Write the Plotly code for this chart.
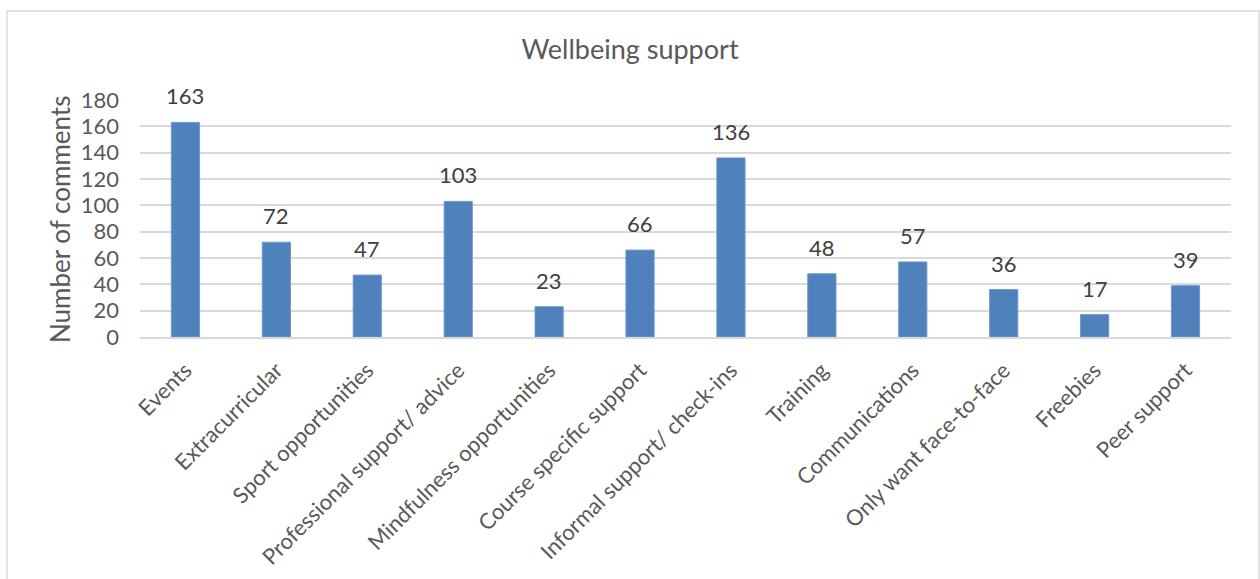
import plotly.graph_objects as go

categories = [
    "Events", "Extracurricular", "Sport opportunities", "Professional support/ advice",
    "Mindfulness opportunities", "Course specific support", "Informal support/ check-ins",
    "Training", "Communications", "Only want face-to-face", "Freebies", "Peer support",
]
comments = [163, 72, 47, 103, 23, 66, 136, 48, 57, 36, 17, 39]
y_ticks = [0, 20, 40, 60, 80, 100, 120, 140, 160, 180]

FONT = "Lato, 'Open Sans', sans-serif"
TEXT = "#595959"
BAR = "#4F81BD"
GRID = "#D9D9D9"

W, H = 1260, 579
L, R, T, B = 140, 29, 100, 242
plot_w = W - L - R
plot_h = H - T - B

fig = go.Figure(
    go.Bar(
        x=categories,
        y=comments,
        marker=dict(color=BAR, line=dict(color="#6E98CC", width=1)),
        width=0.31,
        cliponaxis=False,
        hoverinfo="skip",
    )
)

# value labels above each bar
for c, v in zip(categories, comments):
    fig.add_annotation(
        x=c, y=v, text=str(v), showarrow=False,
        yanchor="bottom", yshift=11,
        font=dict(family=FONT, size=22, color="#404040"),
    )

# y axis title
fig.add_annotation(
    xref="paper", yref="paper",
    x=(60 - L) / plot_w, y=(T + plot_h - 220) / plot_h,
    xanchor="center", yanchor="middle",
    text="Number of comments", textangle=-90, showarrow=False,
    font=dict(family=FONT, size=26, color=TEXT),
)

# chart area border
fig.add_shape(
    type="rect", xref="paper", yref="paper",
    x0=(7 - L) / plot_w, x1=(1259 - L) / plot_w,
    y0=(T + plot_h - 600) / plot_h, y1=(T + plot_h - 11) / plot_h,
    line=dict(color=GRID, width=1.5), fillcolor="rgba(0,0,0,0)", layer="below",
)

fig.update_layout(
    width=W, height=H,
    margin=dict(l=L, r=R, t=T, b=B, autoexpand=False),
    paper_bgcolor="white", plot_bgcolor="white",
    showlegend=False,
    title=dict(
        text="Wellbeing support", x=0.5, xanchor="center",
        y=1 - 50 / H, yanchor="middle",
        font=dict(family=FONT, size=27, color=TEXT),
    ),
    xaxis=dict(
        tickangle=-45, showgrid=False, showline=True, linecolor=GRID, linewidth=1.5,
        tickfont=dict(family=FONT, size=22, color=TEXT), ticks="", ticklabelstandoff=10,
        automargin=False,
    ),
    yaxis=dict(
        range=[0, 180], tickvals=y_ticks, showgrid=True, gridcolor=GRID, gridwidth=1.5,
        zeroline=False, showline=False, ticks="", ticklabelstandoff=20,
        tickfont=dict(family=FONT, size=22, color=TEXT), automargin=False,
    ),
)

fig.write_html("out.html")
